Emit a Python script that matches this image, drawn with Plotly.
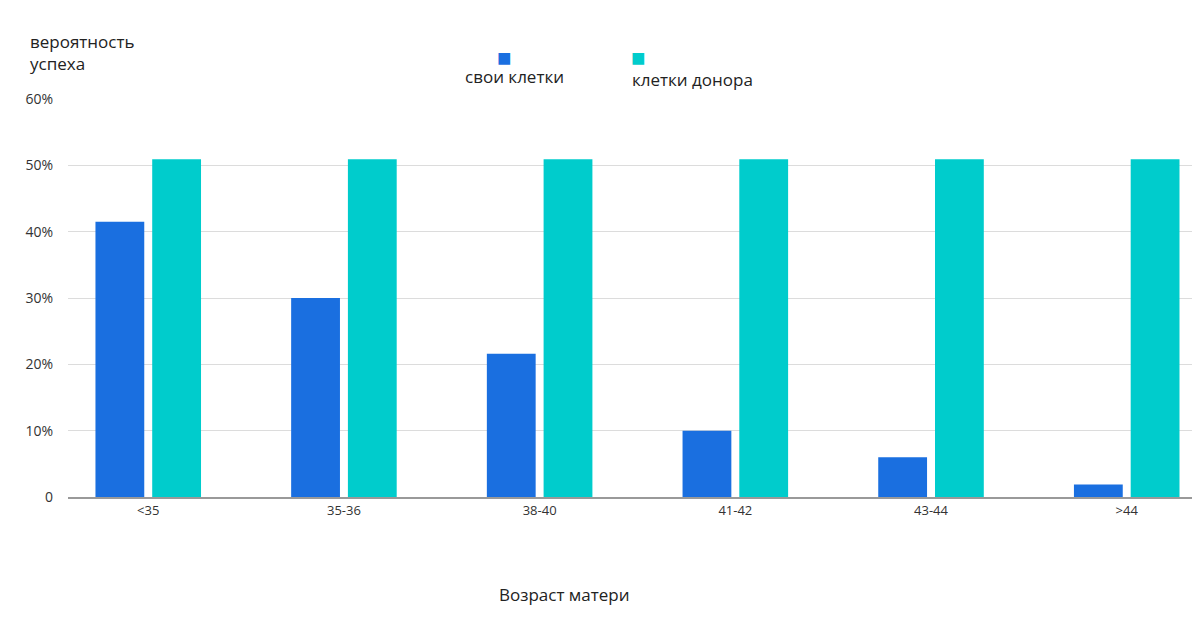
import plotly.graph_objects as go

ages = ["<35", "35-36", "38-40", "41-42", "43-44", ">44"]
own_cells = [41.5, 30.0, 21.6, 10.0, 6.0, 1.9]
donor_cells = [50.9, 50.9, 50.9, 50.9, 50.9, 50.9]
y_ticks = [0, 10, 20, 30, 40, 50, 60]
y_labels = ["0", "10%", "20%", "30%", "40%", "50%", "60%"]

fig = go.Figure()
fig.add_trace(go.Bar(x=ages, y=own_cells, name="свои клетки",
                     marker=dict(color="#1a6fe0", line_width=0)))
fig.add_trace(go.Bar(x=ages, y=donor_cells, name="клетки донора",
                     marker=dict(color="#00cccc", line_width=0)))

fig.update_layout(
    width=1200, height=629,
    margin=dict(l=60, r=3, t=91, b=140, autoexpand=False),
    paper_bgcolor="white", plot_bgcolor="white",
    barmode="group", bargap=0.42, bargroupgap=0.14,
    showlegend=False,
    font=dict(family="Open Sans", color="#333"),
    xaxis=dict(range=[-0.41, 5.4], showline=True, linecolor="#999", linewidth=2,
               ticks="", tickfont=dict(size=13), showgrid=False),
    yaxis=dict(range=[0, 60], tickvals=y_ticks, ticktext=y_labels,
               gridcolor="#dcdcdc", tickfont=dict(size=14), zeroline=False,
               ticklabelstandoff=14),
)

fig.add_annotation(text="вероятность<br>успеха", xref="paper", yref="paper",
                   x=-0.035, y=1.116, xanchor="left", yanchor="middle", align="left",
                   showarrow=False, font=dict(size=17, color="#222"))
fig.add_annotation(text="Возраст матери", xref="paper", yref="paper",
                   x=0.437, y=-0.279, showarrow=False, font=dict(size=17, color="#222"))
# legend-like markers and labels
fig.add_annotation(text="■", xref="paper", yref="paper", x=0.384, y=1.153,
                   showarrow=False, font=dict(size=24, color="#1a6fe0"))
fig.add_annotation(text="свои клетки", xref="paper", yref="paper", x=0.393, y=1.09,
                   showarrow=False, font=dict(size=17, color="#222"))
fig.add_annotation(text="■", xref="paper", yref="paper", x=0.502, y=1.153,
                   showarrow=False, font=dict(size=24, color="#00cccc"))
fig.add_annotation(text="клетки донора", xref="paper", yref="paper", x=0.549, y=1.083,
                   showarrow=False, font=dict(size=17, color="#222"))

fig.write_html("out.html")
